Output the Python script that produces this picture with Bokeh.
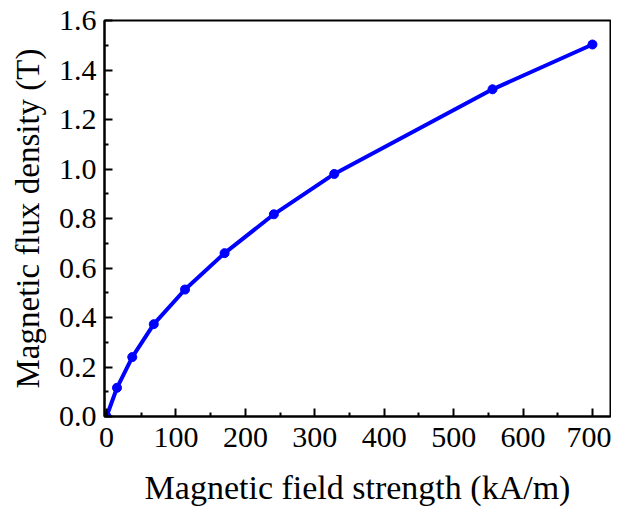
from bokeh.plotting import figure
from bokeh.models import Range1d, FixedTicker, CustomJSTickFormatter
from bokeh.embed import file_html
from bokeh.resources import INLINE

H = [0, 15, 37, 68, 113, 170, 241, 328, 556, 700]
B = [0.0, 0.116, 0.24, 0.373, 0.513, 0.66, 0.817, 0.98, 1.322, 1.503]
x_ticks = [0, 100, 200, 300, 400, 500, 600, 700]
x_minor = [50, 150, 250, 350, 450, 550, 650]
y_ticks = [0.0, 0.2, 0.4, 0.6, 0.8, 1.0, 1.2, 1.4, 1.6]
y_minor = [0.1, 0.3, 0.5, 0.7, 0.9, 1.1, 1.3, 1.5]

FONT = "Liberation Serif"

p = figure(width=611, height=510, output_backend="svg", toolbar_location=None,
           x_range=Range1d(-3, 726), y_range=Range1d(0, 1.6),
           min_border_left=104, min_border_right=1, min_border_top=20, min_border_bottom=94)

p.line(H, B, line_color="#0000FF", line_width=4)
p.scatter(H, B, size=9, fill_color="#0000FF", line_color="#0000FF")

p.xgrid.visible = False
p.ygrid.visible = False
p.outline_line_color = "black"
p.outline_line_width = 2
p.background_fill_color = "white"
p.border_fill_color = "white"

p.xaxis.ticker = FixedTicker(ticks=x_ticks, minor_ticks=x_minor)
p.yaxis.ticker = FixedTicker(ticks=y_ticks, minor_ticks=y_minor)
p.yaxis.formatter = CustomJSTickFormatter(code="return tick.toFixed(1);")

for ax in (p.xaxis[0], p.yaxis[0]):
    ax.axis_line_color = "black"
    ax.axis_line_width = 2
    ax.major_tick_in = 8
    ax.major_tick_out = 0
    ax.minor_tick_in = 4
    ax.minor_tick_out = 0
    ax.major_tick_line_width = 2
    ax.minor_tick_line_width = 2
    ax.major_label_text_font = FONT
    ax.major_label_text_font_size = "30px"
    ax.major_label_text_color = "black"
    ax.axis_label_text_font = FONT
    ax.axis_label_text_font_size = "34px"
    ax.axis_label_text_font_style = "normal"
    ax.axis_label_text_color = "black"

p.xaxis.axis_label = "Magnetic field strength (kA/m)"
p.yaxis.axis_label = "Magnetic flux density (T)"
p.yaxis.axis_label_text_font_size = "33px"
p.xaxis.major_label_standoff = 11
p.yaxis.major_label_standoff = 8
p.xaxis.axis_label_standoff = 19
p.yaxis.axis_label_standoff = 10

open("out.html", "w").write(file_html(p, INLINE))
